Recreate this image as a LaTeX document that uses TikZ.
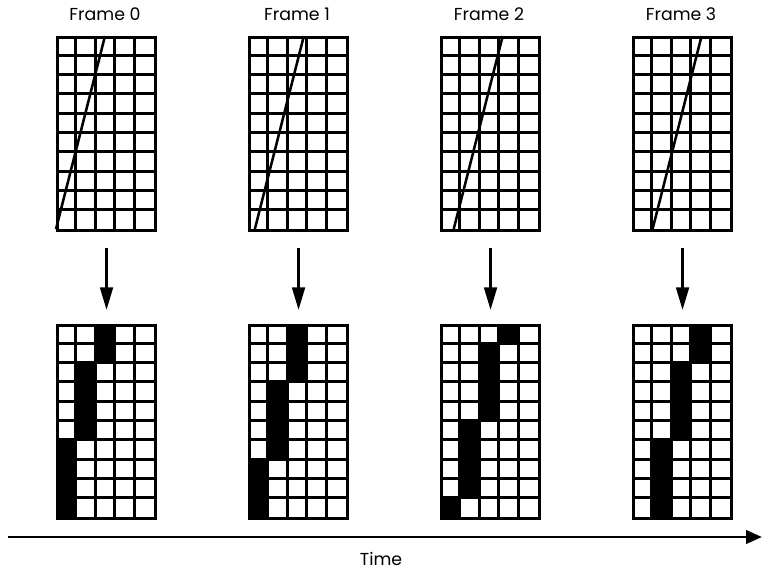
\documentclass[tikz,border=0pt]{standalone}
\usepackage{fontspec}
\setmainfont{Poppins}
\usetikzlibrary{arrows.meta, positioning}

\tikzset{
    gridbox/.style={draw, line width=2.3pt, minimum width=73.5pt, minimum height=144.75pt, inner sep=0pt, anchor=north west},
    gridline/.style={line width=2.3pt},
    scanline/.style={line width=1.9pt},
    flowarrow/.style={line width=2.2pt, -{Triangle[length=17pt, width=9.5pt]}},
    timearrow/.style={line width=2.2pt, -{Triangle[length=12pt, width=10pt]}},
    framelabel/.style={font=\fontsize{13}{15}\selectfont},
}

\begin{document}
\begin{tikzpicture}[x=0.75pt, y=-0.75pt]
    \useasboundingbox (0,0) rectangle (762,571);

    \foreach \i/\cells in {0/{2/0/1,1/2/5,0/6/9}, 1/{2/0/2,1/3/6,0/7/9}, 2/{3/0/0,2/1/4,1/5/8,0/9/9}, 3/{3/0/1,2/2/5,1/6/9}} {
        \pgfmathsetmacro\xl{56+192*\i}
        % rendered frame: filled cells
        \foreach \c/\a/\b in \cells {
            \fill (\xl+\c*19.6, 324+\a*19.3) rectangle (\xl+\c*19.6+19.6, 324+\b*19.3+19.3);
        }
        % grids
        \node[gridbox] (top\i) at (\xl,36) {};
        \node[gridbox] (bot\i) at (\xl,324) {};
        \foreach \k in {1,...,4} {
            \draw[gridline] (\xl+\k*19.6, 36) -- (\xl+\k*19.6, 229);
            \draw[gridline] (\xl+\k*19.6, 324) -- (\xl+\k*19.6, 517);
        }
        \foreach \k in {1,...,9} {
            \draw[gridline] (\xl, 36+\k*19.3) -- (\xl+98, 36+\k*19.3);
            \draw[gridline] (\xl, 324+\k*19.3) -- (\xl+98, 324+\k*19.3);
        }
        % the moving line
        \draw[scanline] (\xl+0.35*\i*19.6, 229) -- (\xl+2.5*19.6+0.35*\i*19.6, 36);
        \node[framelabel] (label\i) at (\xl+49, 14) {Frame \i};
        \draw[flowarrow, shorten <=12pt, shorten >=10.5pt] (top\i.south) -- (bot\i.north);
    }

    % time axis
    \coordinate (tstart) at (8,537);
    \coordinate (tend) at (762,537);
    \draw[timearrow] (tstart) -- (tend);
    \node[framelabel] (timelabel) at (381,559) {Time};
\end{tikzpicture}
\end{document}
